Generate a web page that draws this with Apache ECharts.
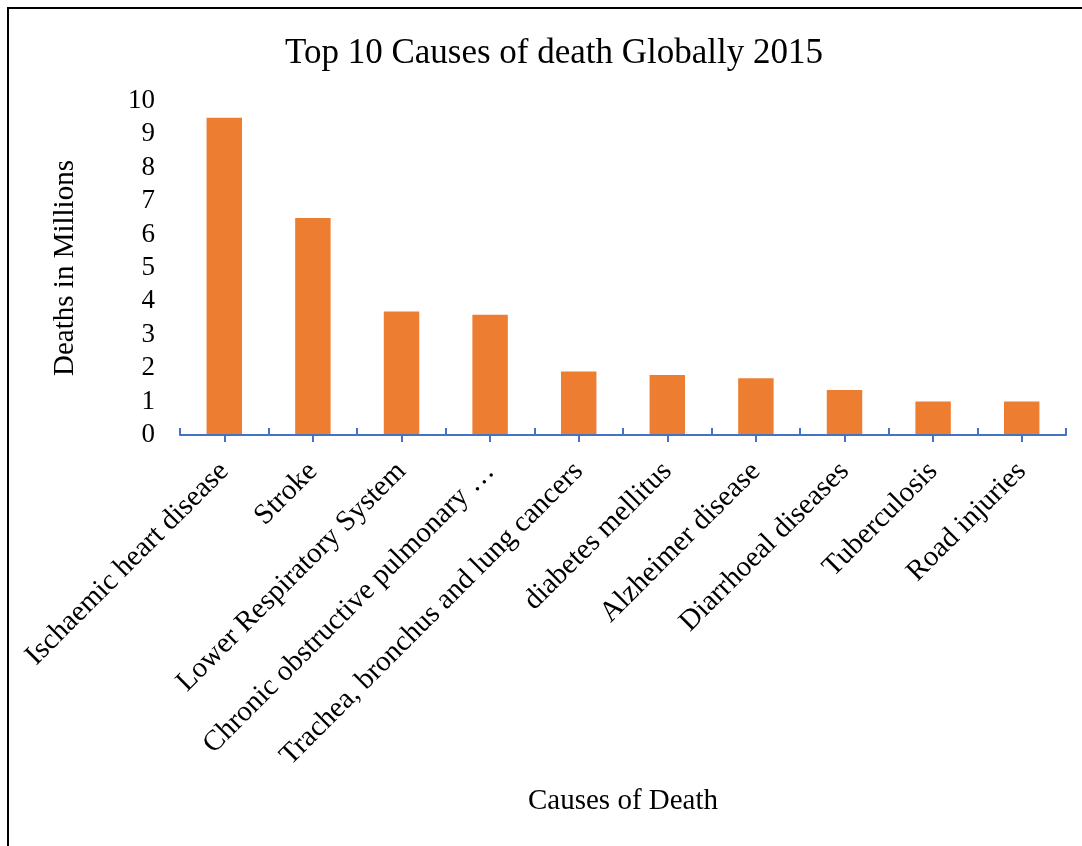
<!DOCTYPE html>
<html>
<head>
<meta charset="utf-8">
<script src="https://cdn.jsdelivr.net/npm/echarts@6/dist/echarts.min.js"></script>
<style>
  html, body { margin: 0; padding: 0; background: #fff; }
  #chart { width: 1082px; height: 846px; }
  .frame {
    position: absolute; left: 7px; top: 7px; width: 1100px; height: 900px;
    border-top: 2px solid #000; border-left: 2px solid #000;
    pointer-events: none;
  }
</style>
</head>
<body>
<div id="chart"></div>
<div class="frame"></div>
<script>
const causes = [
  'Ischaemic heart disease',
  'Stroke',
  'Lower Respiratory System',
  'Chronic obstructive pulmonary …',
  'Trachea, bronchus and lung cancers',
  'diabetes mellitus',
  'Alzheimer disease',
  'Diarrhoeal diseases',
  'Tuberculosis',
  'Road injuries'
]
const deaths = [9.5, 6.5, 3.7, 3.6, 1.9, 1.8, 1.7, 1.35, 1.0, 1.0]

const font = 'Liberation Serif'
const axisBlue = '#4472C4'

const chart = echarts.init(document.getElementById('chart'))
chart.setOption({
  backgroundColor: '#fff',
  title: {
    text: 'Top 10 Causes of death Globally 2015',
    left: 280,
    top: 31,
    textStyle: { fontFamily: font, fontSize: 35, fontWeight: 'normal', color: '#000' }
  },
  grid: { left: 180, right: 16, top: 101, bottom: 411 },
  xAxis: [
    {
      type: 'category',
      position: 'bottom',
      data: causes,
      name: 'Causes of Death',
      nameLocation: 'middle',
      nameGap: 352,
      nameTextStyle: { fontFamily: font, fontSize: 29, color: '#000' },
      axisLine: { show: true, lineStyle: { color: axisBlue, width: 2 } },
      axisTick: { show: true, interval: 0, inside: true, length: 7, lineStyle: { color: axisBlue, width: 2 } },
      axisLabel: {
        rotate: 45,
        interval: 0,
        margin: 32,
        fontFamily: font,
        fontSize: 29,
        color: '#000'
      },
      z: 10
    },
    {
      // ticks under the bars, pointing down
      type: 'category',
      position: 'bottom',
      offset: 0,
      data: causes,
      axisLine: { show: false },
      axisTick: { show: true, interval: 0, alignWithLabel: true, length: 7, lineStyle: { color: axisBlue, width: 2 } },
      axisLabel: { show: false },
      z: 10
    }
  ],
  yAxis: {
    type: 'value',
    min: 0,
    max: 10,
    interval: 1,
    name: 'Deaths in Millions',
    nameLocation: 'middle',
    nameRotate: 90,
    nameGap: 100,
    nameTextStyle: { fontFamily: font, fontSize: 29, color: '#000' },
    axisLine: { show: false },
    axisTick: { show: false },
    splitLine: { show: false },
    axisLabel: { margin: 25, fontFamily: font, fontSize: 27, color: '#000' }
  },
  series: [
    {
      type: 'bar',
      xAxisIndex: 0,
      data: deaths,
      barCategoryGap: '60%',
      itemStyle: { color: '#ED7D31' }
    }
  ]
})
</script>
</body>
</html>
